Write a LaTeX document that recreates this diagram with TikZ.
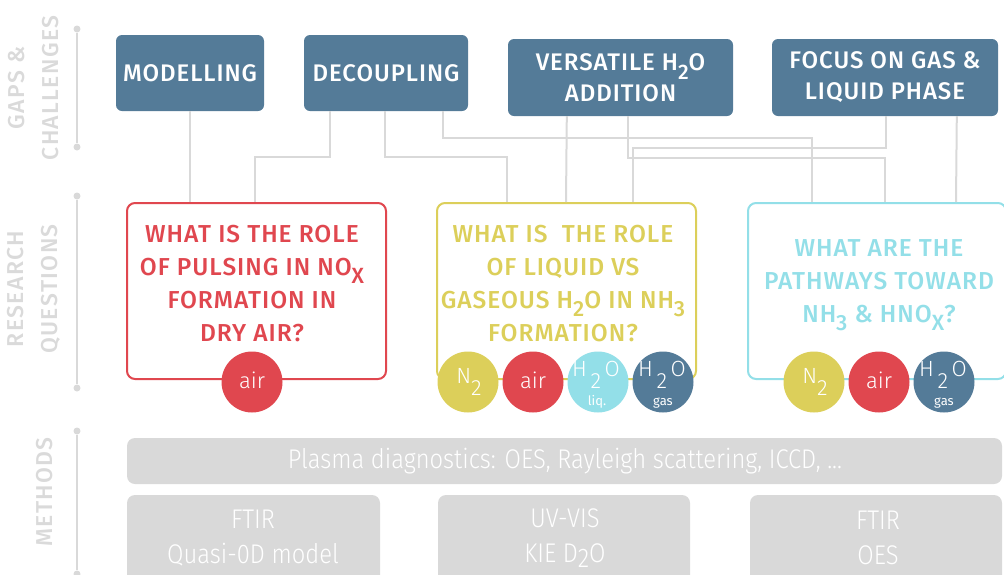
\documentclass[tikz,border=0pt]{standalone}
\usepackage{fontspec}
\setmainfont{Fira Sans}
\newfontfamily\medf{Fira Sans Medium}[LetterSpace=4]
\newfontfamily\sidef{Fira Sans Medium}[LetterSpace=6]
\newfontfamily\lightf{Fira Sans Light}
\newfontfamily\condf{Fira Sans Light}[FakeStretch=0.88]
\definecolor{navy}{HTML}{547B98}
\definecolor{qred}{HTML}{E0474F}
\definecolor{qyel}{HTML}{DCCF5A}
\definecolor{qcyan}{HTML}{93DFE8}
\definecolor{lgray}{HTML}{D9D9D9}
\definecolor{sgray}{HTML}{DADADA}
\newcommand\topfont{\medf\fontsize{24}{31}\selectfont}
\newcommand\qfont{\medf\fontsize{24.5}{33}\selectfont}
\newcommand\sidefont{\sidef\fontsize{23}{34}\selectfont}
\newcommand\mfont{\condf\fontsize{27}{35}\selectfont}
\newcommand\lowr[1]{\raisebox{-8pt}{\fontsize{22}{22}\selectfont #1}}
\newcommand\toplowr[1]{\raisebox{-9pt}{\fontsize{21}{21}\selectfont #1}}
\begin{document}
\begin{tikzpicture}[x=1pt,y=-1pt,
 topbox/.style={fill=navy, rounded corners=6pt, inner sep=0pt, text=white, font=\topfont, align=center},
 qbox/.style={draw, line width=2pt, rounded corners=8pt, inner sep=0pt, fill=white},
 qtext/.style={font=\qfont, align=center, inner sep=0pt},
 conn/.style={draw=lgray, line width=2pt},
 circ/.style={circle, minimum size=61pt, inner sep=0pt},
 ctext/.style={text=white, inner sep=0pt, font=\lightf\fontsize{22}{22}\selectfont},
 csub/.style={text=white, inner sep=0pt, font=\fontsize{13}{13}\selectfont},
 mbox/.style={fill=lgray, rounded corners=8pt, inner sep=0pt},
 mtext/.style={text=white, font=\mfont, inner sep=0pt, align=center},
 side/.style={text=sgray, font=\sidefont, rotate=90, align=center, inner sep=0pt},
 dot/.style={circle, fill=lgray, inner sep=0pt, minimum size=7pt},
 sideline/.style={draw=lgray, line width=2pt}
]
\useasboundingbox (0,0) rectangle (1004,574);

% side labels
\node[side] (lg) at (34,88) {GAPS \&\\CHALLENGES};
\node[side] (lr) at (34,289) {RESEARCH\\QUESTIONS};
\node[side] (lm) at (45,492) {METHODS};
\node[dot] (d1) at (77,29) {};
\node[dot] (d2) at (77,147) {};
\node[dot] (d3) at (77,196) {};
\node[dot] (d4) at (77,388) {};
\node[dot] (d5) at (77,431) {};
\node[dot] (d6) at (77,574) {};
\draw[sideline] (d1) -- (d2);
\draw[sideline] (d3) -- (d4);
\draw[sideline] (d5) -- (d6);

% top boxes
\node[topbox, minimum width=148pt, minimum height=76pt] (mod) at (190,73) {MODELLING};
\node[topbox, minimum width=164pt, minimum height=76pt] (dec) at (386,73) {DECOUPLING};
\node[topbox, minimum width=225pt, minimum height=77pt] (ver) at (620.5,77.5) {VERSATILE H\toplowr{2}O\\ADDITION};
\node[topbox, minimum width=226pt, minimum height=77pt] (foc) at (885,77.5) {FOCUS ON GAS \&\\LIQUID PHASE};

% question boxes
\node[qbox, draw=qred, minimum width=259pt, minimum height=176pt] (qr) at (256.5,291) {};
\node[qbox, draw=qyel, minimum width=259pt, minimum height=176pt] (qy) at (566.5,291) {};
\node[qbox, draw=qcyan, minimum width=258pt, minimum height=176pt] (qc) at (877,291) {};

% connectors
\draw[conn] (mod.south) -- (mod.south |- qr.north);
\draw[conn] ([xshift=26pt]dec.south west) -- ++(0,46) -| ([xshift=129pt]qr.north west);
\draw[conn] ([xshift=81pt]dec.south west) -- ++(0,46) -| ([xshift=71pt]qy.north west);
\draw[conn] ([xshift=139pt]dec.south west) -- ++(0,27) -| ([xshift=65pt]qc.north west);
\draw[conn] ([xshift=59pt]ver.south west) -- ([xshift=130pt]qy.north west);
\draw[conn] ([xshift=120pt]ver.south west) -- ++(0,42) -| ([xshift=138pt]qc.north west);
\draw[conn] ([xshift=114pt]foc.south west) -- ++(0,32) -| ([xshift=197pt]qy.north west);
\draw[conn] ([xshift=185pt]foc.south west) -- ([xshift=209pt]qc.north west);

% question texts
\node[qtext, text=qred] (tr) at (252,284) {WHAT IS THE ROLE\\OF PULSING IN NO\lowr{X}\\FORMATION IN\\DRY AIR?};
\node[qtext, text=qyel] (ty) at (563,284) {WHAT IS\ \ THE ROLE\\OF LIQUID VS\\GASEOUS H\lowr{2}O IN NH\lowr{3}\\FORMATION?};
\node[qtext, text=qcyan] (tc) at (879,285) {WHAT ARE THE\\PATHWAYS TOWARD\\NH\lowr{3} \& HNO\lowr{X}?};

% circles
\node[circ, fill=qred] (c1) at (252,382) {};
\node[ctext] (c1t) at (252,380) {air};

\node[circ, fill=qyel] (c2) at (468,382) {};
\node[ctext, anchor=base] (c2t) at (469,383) {N\raisebox{-12pt}{2}};
\node[circ, fill=qred] (c3) at (533,382) {};
\node[ctext] (c3t) at (533,380) {air};
\node[circ, fill=qcyan] (c4) at (598,382) {};
\node[ctext, anchor=base] (c4t) at (596,376) {H\,\raisebox{-12pt}{2}\,O};
\node[csub, anchor=base] (c4s) at (597,405) {liq.};
\node[circ, fill=navy] (c5) at (663,382) {};
\node[ctext, anchor=base] (c5t) at (662,376) {H\,\raisebox{-12pt}{2}\,O};
\node[csub, anchor=base] (c5s) at (663,405) {gas};

\node[circ, fill=qyel] (c6) at (814,382) {};
\node[ctext, anchor=base] (c6t) at (815,383) {N\raisebox{-12pt}{2}};
\node[circ, fill=qred] (c7) at (879,382) {};
\node[ctext] (c7t) at (879,380) {air};
\node[circ, fill=navy] (c8) at (944,382) {};
\node[ctext, anchor=base] (c8t) at (943,376) {H\,\raisebox{-12pt}{2}\,O};
\node[csub, anchor=base] (c8s) at (944,405) {gas};

% methods
\node[mbox, minimum width=875pt, minimum height=46pt] (pl) at (564.5,461) {};
\node[mtext] (plt) at (565,461) {Plasma diagnostics: OES, Rayleigh scattering, ICCD, ...};
\node[mbox, minimum width=253pt, minimum height=90pt] (m1) at (253.5,540) {};
\node[mbox, minimum width=252pt, minimum height=90pt] (m2) at (564,540) {};
\node[mbox, minimum width=252pt, minimum height=90pt] (m3) at (876,540) {};
\node[mtext] (m1t) at (253,538) {FTIR\\Quasi-0D model};
\node[mtext] (m2t) at (565,538) {UV-VIS\\KIE D\raisebox{-5pt}{2}O};
\node[mtext] (m3t) at (878,538) {FTIR\\OES};
\end{tikzpicture}
\end{document}
